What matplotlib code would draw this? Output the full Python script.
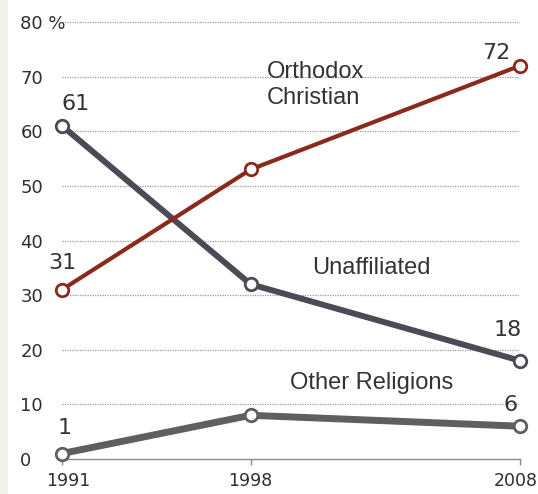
import matplotlib
matplotlib.use('Agg')
import matplotlib.pyplot as plt
import matplotlib.transforms as mtransforms

# Data
years = [1991, 1998, 2008]
orthodox = [31, 53, 72]
unaffiliated = [61, 32, 18]
other = [1, 8, 6]

yticks = [0, 10, 20, 30, 40, 50, 60, 70, 80]
ytick_labels = ['0', '10', '20', '30', '40', '50', '60', '70', '80 %']

fig = plt.figure(figsize=(5.38, 4.94), dpi=100)
fig.patch.set_facecolor('white')
# thin pale strip on the left edge
fig.add_artist(plt.Rectangle((0, 0), 8 / 538, 1, transform=fig.transFigure,
                             facecolor='#eef2ea', edgecolor='none'))

ax = fig.add_axes([62 / 538, 35 / 494, 458 / 538, 437 / 494])
ax.set_xlim(1991, 2008)
ax.set_ylim(0, 80)
ax.set_facecolor('none')

# Dotted gridlines
for y in yticks[1:]:
    ax.axhline(y, color='#9a9a9a', lw=0.9, ls=(0, (1, 1)), zorder=1)

for s in ['top', 'right', 'left']:
    ax.spines[s].set_visible(False)
ax.spines['bottom'].set_color('#8a8a8a')
ax.spines['bottom'].set_linewidth(1.0)

ax.set_yticks(yticks)
ax.set_yticklabels(ytick_labels, fontsize=13, color='#2e2e2e',
                   family='DejaVu Sans', ha='left')
ax.tick_params(axis='y', length=0, pad=30)

ax.set_xticks(years)
ax.set_xticklabels([str(y) for y in years], fontsize=12.5, color='#2e2e2e',
                   family='DejaVu Sans')
ax.tick_params(axis='x', direction='out', length=4, width=1, color='#8a8a8a', pad=5)
# nudge the first and last year labels like the original
shifts = [6, 0, -4]
for lbl, dx in zip(ax.get_xticklabels(), shifts):
    lbl.set_transform(lbl.get_transform() +
                      mtransforms.ScaledTranslation(dx / 100, 0, fig.dpi_scale_trans))

mk = dict(marker='o', markersize=9, markerfacecolor='white',
          markeredgewidth=2, clip_on=False)
ax.plot(years, other, color='#5f5f5f', lw=5, markeredgecolor='#5f5f5f', zorder=3, **mk)
ax.plot(years, unaffiliated, color='#4d4a55', lw=4.3, markeredgecolor='#4d4a55', zorder=4, **mk)
ax.plot(years, orthodox, color='#8b2a1c', lw=3, markeredgecolor='#8b2a1c', zorder=5, **mk)

# Value labels
num = dict(fontsize=16, color='#333333', family='DejaVu Sans', ha='center', va='center')
ax.text(years[0] + 0.5, unaffiliated[0] + 3.9, str(unaffiliated[0]), **num)
ax.text(years[0], orthodox[0] + 4.9, str(orthodox[0]), **num)
ax.text(years[0] + 0.1, other[0] + 4.7, str(other[0]), **num)
ax.text(years[2] - 0.9, orthodox[2] + 2.4, str(orthodox[2]), **num)
ax.text(years[2] - 0.45, unaffiliated[2] + 5.6, str(unaffiliated[2]), **num)
ax.text(years[2] - 0.35, other[2] + 3.9, str(other[2]), **num)

# Series labels
lab = dict(fontsize=17, color='#333333', family='Liberation Sans', va='center')
ax.text(1998.6, 68.5, 'Orthodox\nChristian', ha='left', linespacing=1.2, **lab)
ax.text(2002.5, 35.0, 'Unaffiliated', ha='center', **lab)
ax.text(2002.5, 13.9, 'Other Religions', ha='center', **lab)

fig.savefig('out.png', dpi=100)
